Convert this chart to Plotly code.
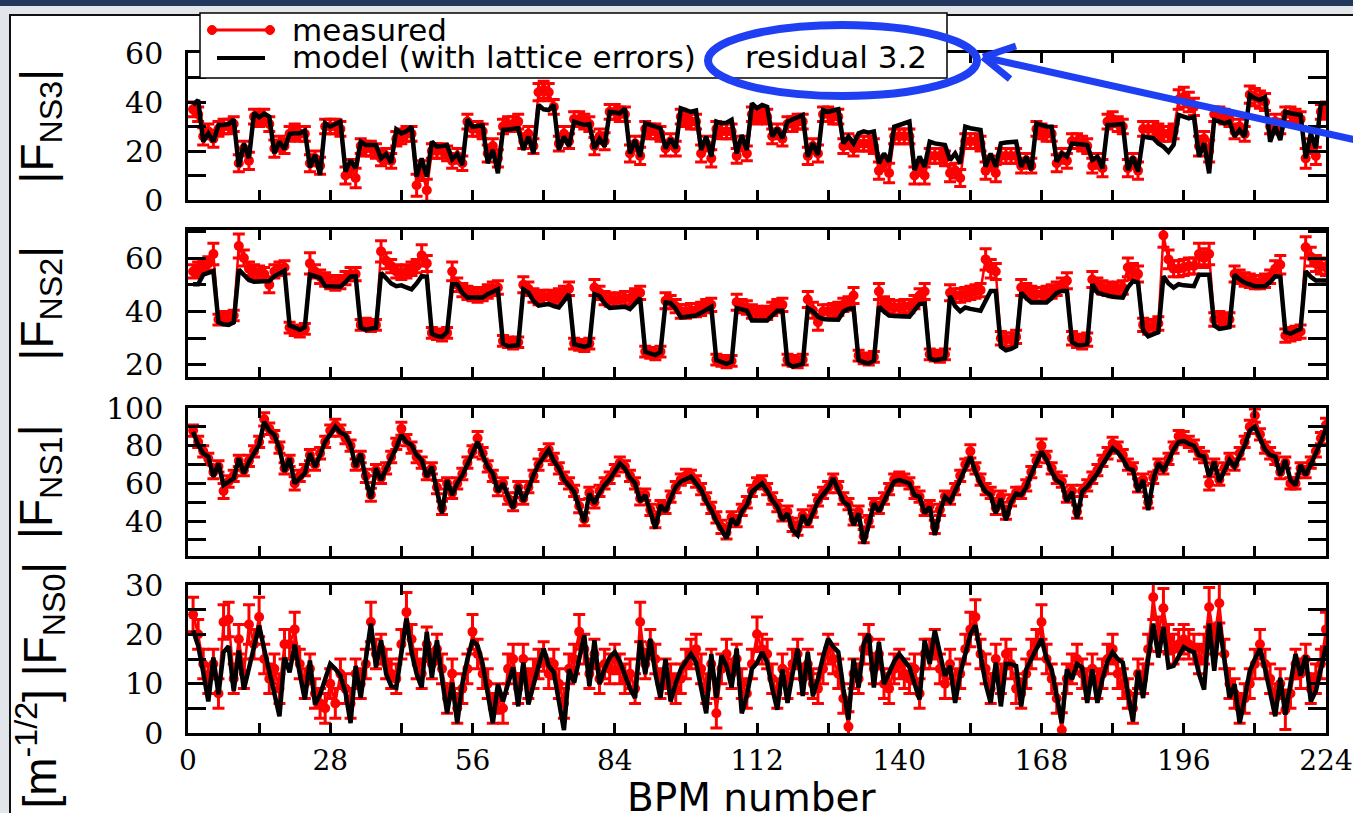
import plotly.graph_objects as go

W, H = 1353, 813

# BPM index (x categories)
bpm = list(range(1, 225))

# ---------------- |F_NS3| ----------------
fns3_model = [
    38.8, 40.8, 23.8, 27.2, 23.8, 30.6, 30.6,
    31.0, 32.9, 13.6, 23.1, 17.0, 35.6, 33.7,
    35.2, 34.0, 19.0, 23.8, 20.7, 27.0, 27.2,
    27.2, 28.3, 13.3, 18.4, 10.2, 31.3, 29.9,
    31.0, 32.0, 11.6, 16.3, 12.9, 23.8, 22.4,
    22.4, 22.4, 17.0, 18.8, 15.2, 28.8, 27.2,
    28.0, 29.9, 9.5, 17.0, 9.5, 23.8, 21.8,
    22.0, 22.4, 16.6, 18.8, 14.3, 32.9, 29.9,
    30.0, 30.5, 15.0, 20.4, 10.9, 28.6, 28.8,
    29.0, 29.3, 20.4, 25.9, 19.0, 38.8, 37.0,
    36.7, 38.8, 20.4, 25.9, 21.8, 32.0, 31.3,
    30.6, 31.0, 21.0, 25.0, 21.8, 36.0, 35.6,
    35.4, 37.4, 19.0, 24.5, 17.7, 31.3, 30.5,
    30.0, 29.3, 21.0, 25.0, 21.0, 37.4, 36.7,
    36.0, 36.5, 20.4, 25.9, 17.7, 32.0, 31.3,
    31.5, 32.7, 19.0, 26.5, 20.4, 39.5, 37.4,
    38.8, 38.0, 25.9, 29.3, 25.2, 32.0, 33.0,
    34.0, 34.7, 17.7, 23.1, 18.4, 36.7, 36.0,
    36.7, 37.0, 23.1, 25.9, 23.1, 27.2, 28.0,
    27.5, 28.0, 15.0, 19.0, 15.6, 29.9, 30.6,
    31.3, 32.0, 12.2, 17.7, 13.6, 23.8, 23.1,
    22.8, 22.4, 16.3, 19.0, 15.0, 29.9, 29.3,
    29.0, 28.6, 13.6, 19.0, 13.6, 23.1, 23.5,
    23.5, 23.8, 13.6, 17.7, 12.2, 31.3, 30.6,
    30.0, 29.9, 15.6, 19.0, 17.7, 23.1, 22.8,
    22.4, 22.4, 16.3, 17.7, 12.9, 30.6, 30.6,
    30.6, 31.0, 12.2, 17.7, 11.6, 25.9, 25.5,
    25.2, 23.1, 21.8, 19.7, 22.5, 34.7, 34.0,
    33.3, 34.0, 17.7, 23.1, 10.9, 32.7, 32.0,
    31.3, 32.0, 25.9, 28.6, 25.9, 42.9, 41.5,
    40.8, 42.0, 23.8, 29.9, 24.5, 36.0, 35.4,
    35.0, 34.7, 17.0, 27.2, 21.1, 39.5, 39.5,
]
fns3_meas = [
    37, 35, 26, 28, 25, 29, 30,
    30, 31, 15, 21, 16, 34, 33,
    34, 31, 21, 23, 22, 27, 28,
    27, 27, 15, 17, 14, 30, 30,
    30, 29, 10, 13, 9, 22, 21,
    21, 20, 17, 18, 16, 25, 26,
    27, 27, 6, 12, 4, 20, 20,
    20, 19, 16, 18, 15, 32, 29,
    29, 28, 19, 22, 17, 30, 31,
    31, 32, 24, 27, 22, 44, 45,
    44, 38, 23, 27, 24, 33, 33,
    32, 31, 22, 26, 24, 36, 36,
    35, 35, 19, 23, 18, 29, 28,
    28, 27, 21, 24, 21, 34, 33,
    32, 32, 19, 23, 17, 29, 28,
    28, 28, 18, 23, 19, 35, 34,
    35, 34, 26, 28, 25, 31, 31,
    32, 32, 18, 22, 19, 35, 35,
    34, 34, 22, 24, 21, 23, 23,
    23, 22, 12, 15, 11, 26, 26,
    26, 26, 10, 13, 10, 18, 18,
    18, 17, 11, 12, 9, 24, 24,
    24, 23, 12, 15, 11, 18, 18,
    18, 18, 14, 16, 14, 29, 28,
    27, 27, 15, 18, 16, 24, 24,
    23, 22, 14, 16, 13, 32, 33,
    31, 30, 13, 16, 12, 29, 29,
    29, 28, 27, 27, 28, 41, 42,
    40, 38, 22, 25, 20, 35, 35,
    34, 33, 28, 30, 27, 43, 42,
    41, 40, 30, 32, 30, 35, 35,
    34, 33, 17, 22, 18, 36, 37,
]
fns3_err = [
    3, 3, 3.5, 3, 3.5, 3, 3, 3, 3, 3.5, 3, 3.5, 3, 3,
    3, 3, 3.5, 3, 3, 3, 3, 3, 3, 3.5, 3, 3.5, 3, 3,
    3, 3, 3.5, 3.5, 4, 3, 3, 3, 3, 3, 3, 3, 3, 3,
    3, 3, 4.5, 4, 4.5, 3, 3, 3, 3, 3, 3, 3, 3, 3,
    3, 3, 3.5, 3, 3.5, 3, 3, 3, 3, 3, 3, 3, 3.5, 3.5,
    3.5, 3, 3, 3, 3, 3, 3, 3, 3, 3.5, 3, 3.5, 3, 3,
    3, 3, 3.5, 3, 3.5, 3, 3, 3, 3, 3, 3, 3, 3, 3,
    3, 3, 3.5, 3, 3.5, 3, 3, 3, 3, 3, 3, 3, 3, 3,
    3, 3, 3, 3, 3, 3, 3, 3, 3, 3.5, 3, 3.5, 3, 3,
    3, 3, 3, 3, 3, 3, 3, 3, 3, 3.5, 3, 4, 3, 3,
    3, 3, 3.5, 3, 3.5, 3, 3, 3, 3, 3.5, 3, 3.5, 3, 3,
    3, 3, 3.5, 3, 3.5, 3, 3, 3, 3, 3, 3, 3, 3, 3,
    3, 3, 3.5, 3, 3, 3, 3, 3, 3, 3, 3, 3.5, 3, 3,
    3, 3, 3.5, 3, 3.5, 3, 3, 3, 3, 3, 3, 3, 4, 4,
    4, 3.5, 4, 3, 4.5, 3, 3, 3, 3, 3, 3, 3, 3.5, 3.5,
    3.5, 3.5, 3, 3, 3, 3, 3, 3, 3, 4, 3, 3.5, 3, 3,
]

# ---------------- |F_NS2| ----------------
fns2_model = [
    50.2, 50.2, 53.8, 54.5, 55.1, 36.0, 35.2, 35.0, 36.0, 55.7, 53.5, 51.8, 51.1, 51.2,
    51.3, 51.4, 53.2, 54.2, 55.3, 34.8, 33.8, 33.2, 34.2, 53.8, 53.2, 52.6, 49.5, 49.3,
    49.3, 49.3, 51.0, 53.0, 53.2, 33.9, 33.2, 33.5, 33.9, 54.5, 52.6, 50.5, 49.5, 49.8,
    49.0, 48.3, 50.5, 53.2, 53.0, 31.7, 30.8, 30.5, 32.3, 50.2, 50.2, 47.0, 45.2, 45.2,
    45.2, 45.2, 46.5, 47.5, 48.3, 28.0, 27.0, 27.2, 27.4, 48.3, 47.1, 44.0, 42.2, 42.5,
    42.8, 42.0, 41.5, 44.0, 46.5, 27.8, 27.2, 26.8, 27.4, 46.5, 45.8, 43.0, 41.3, 41.5,
    41.6, 41.8, 40.9, 43.0, 45.0, 24.9, 24.2, 23.7, 24.9, 43.4, 43.2, 41.0, 37.8, 38.0,
    38.2, 38.5, 39.5, 40.8, 41.8, 21.8, 21.0, 20.4, 21.2, 41.3, 40.8, 40.3, 36.6, 36.6,
    36.6, 36.6, 38.5, 40.3, 40.3, 20.6, 19.4, 19.8, 20.4, 41.3, 40.1, 38.0, 37.2, 37.0,
    37.0, 36.9, 40.0, 41.0, 41.3, 21.8, 21.0, 20.6, 21.6, 41.8, 40.0, 38.5, 38.3, 38.2,
    38.1, 38.1, 40.5, 42.8, 43.0, 22.5, 21.8, 22.0, 22.5, 45.8, 42.0, 40.1, 41.5, 41.0,
    40.5, 40.3, 44.0, 47.7, 47.7, 26.8, 25.5, 26.0, 27.0, 47.1, 45.0, 43.4, 43.4, 43.4,
    43.4, 45.0, 47.0, 47.7, 47.7, 28.6, 27.4, 27.5, 27.8, 50.2, 47.1, 46.5, 45.8, 45.5,
    45.3, 45.2, 49.0, 51.4, 50.8, 32.9, 30.7, 31.5, 32.3, 53.2, 50.5, 48.9, 50.2, 49.8,
    49.6, 49.5, 53.8, 53.8, 53.8, 34.8, 33.5, 33.8, 34.2, 53.8, 52.0, 50.8, 50.0, 49.5,
    49.5, 49.5, 51.0, 53.2, 53.0, 32.3, 31.7, 32.5, 33.5, 55.1, 53.0, 51.6, 51.6, 51.6,
]
fns2_meas = [
    55, 56, 57, 58, 61.5, 37, 38, 37.5, 38.5, 64.5, 60, 56, 55, 54.5,
    54, 50, 55, 56, 56.5, 34, 33, 32.5, 33.5, 58, 55, 53, 52, 51,
    50.5, 51, 52.5, 54, 54, 35, 35.5, 34.5, 35, 62.5, 59, 57, 55, 54.5,
    55, 56, 57, 61, 58, 32, 31.5, 31, 32, 55, 50, 48, 47, 46.5,
    46, 46.5, 47.5, 48.5, 49, 29, 28.5, 28, 28.5, 50, 48.5, 46, 45, 45.5,
    45.5, 45, 46, 47, 48.5, 28, 27.5, 27, 28, 49, 47, 45, 44.5, 44,
    44.5, 45, 45, 46, 47, 25, 24.5, 24, 25, 44, 43.5, 42, 40, 40,
    40.5, 40.5, 41, 42, 42.5, 22, 21.5, 21, 21.5, 43.5, 42, 41.5, 40, 39.5,
    39, 39.5, 41, 42, 42.5, 22, 21.5, 21, 22, 44.5, 40.5, 36, 40, 40,
    40.5, 41, 42.5, 43, 46, 23.5, 22.5, 22, 23, 47.5, 43, 42, 41.5, 41.5,
    42, 42, 43.5, 46, 47.5, 24, 23.5, 23, 24, 47, 46, 46, 46.5, 47,
    47.5, 48, 59.5, 56, 55, 30, 29.5, 29.5, 30.5, 49, 48, 47, 46.5, 46.5,
    47, 47.5, 48.5, 50, 51.5, 30, 29, 28.5, 29.5, 52, 50, 49, 48.5, 48,
    48.5, 49, 56.5, 55, 54, 35, 34, 34.5, 35.5, 68.5, 59.5, 56, 56, 56.5,
    57, 57, 61.5, 60, 61.5, 37, 37.5, 36.5, 37, 54, 53, 52, 51.5, 51,
    51, 51.5, 53, 56, 57.5, 31, 31.5, 32, 32.5, 64, 60.5, 58, 57, 56.5,
]
fns2_err = [
    2.5, 2.5, 2.5, 2.5, 4, 2, 2, 2, 2, 4.5, 3, 2.5, 2.5, 2.5,
    2.5, 3, 2.5, 2.5, 2.5, 2, 2, 2, 2, 4, 2.5, 2.5, 2.5, 2.5,
    2.5, 2.5, 2.5, 2.5, 2.5, 2, 2, 2, 2, 4, 3, 2.5, 2.5, 2.5,
    2.5, 2.5, 2.5, 4, 3, 2, 2, 2, 2, 3.5, 2.5, 2.5, 2.5, 2.5,
    2.5, 2.5, 2.5, 2.5, 2.5, 2, 2, 2, 2, 3, 2.5, 2.5, 2.5, 2.5,
    2.5, 2.5, 2.5, 2.5, 2.5, 2, 2, 2, 2, 3, 2.5, 2.5, 2.5, 2.5,
    2.5, 2.5, 2.5, 2.5, 2.5, 2, 2, 2, 2, 3, 2.5, 2.5, 2.5, 2.5,
    2.5, 2.5, 2.5, 2.5, 2.5, 2, 2, 2, 2, 3, 2.5, 2.5, 2.5, 2.5,
    2.5, 2.5, 2.5, 2.5, 2.5, 2, 2, 2, 2, 3, 3, 3, 2.5, 2.5,
    2.5, 2.5, 2.5, 2.5, 3, 2, 2, 2, 2, 3, 2.5, 2.5, 2.5, 2.5,
    2.5, 2.5, 2.5, 2.5, 3, 2, 2, 2, 2, 3, 2.5, 2.5, 2.5, 2.5,
    2.5, 2.5, 4, 3.5, 3, 2.5, 2.5, 2.5, 2.5, 3, 2.5, 2.5, 2.5, 2.5,
    2.5, 2.5, 2.5, 2.5, 3, 2.5, 2.5, 2.5, 2.5, 3, 2.5, 2.5, 2.5, 2.5,
    2.5, 2.5, 3.5, 3, 3, 2.5, 2.5, 2.5, 2.5, 4.5, 3.5, 3, 3, 3,
    3, 3, 4, 3.5, 4, 2.5, 2.5, 2.5, 2.5, 3, 2.5, 2.5, 2.5, 2.5,
    2.5, 2.5, 2.5, 3, 3.5, 2.5, 2.5, 2.5, 2.5, 4, 3.5, 3, 3, 3,
]

# ---------------- |F_NS1| ----------------
fns1_model = [
    87.4, 80.4, 75.9, 74.2, 63.5, 70.6, 59.1, 61.0, 62.7, 73.3, 65.3, 71.5, 76.0, 80.4,
    92.7, 88.0, 85.7, 78.6, 66.2, 73.3, 60.0, 63.0, 65.3, 75.9, 68.8, 75.0, 82.1, 86.0,
    90.1, 87.0, 85.7, 80.4, 68.8, 75.9, 62.0, 52.0, 68.0, 61.8, 67.0, 73.3, 79.0, 85.7,
    82.0, 80.4, 75.0, 72.4, 63.5, 68.8, 56.0, 44.1, 61.8, 53.8, 60.0, 64.4, 70.0, 76.0,
    82.1, 75.0, 68.8, 65.3, 55.6, 60.0, 53.0, 46.7, 59.1, 50.3, 57.0, 64.4, 70.0, 74.0,
    77.7, 72.0, 68.0, 62.0, 59.1, 55.6, 47.0, 39.6, 54.7, 49.4, 55.0, 59.1, 62.0, 66.0,
    70.6, 68.0, 63.0, 60.0, 50.3, 53.8, 45.0, 36.1, 48.5, 45.0, 52.0, 58.0, 61.0, 62.5,
    63.5, 60.0, 56.5, 50.3, 45.8, 40.0, 35.0, 30.8, 41.4, 37.9, 45.0, 48.5, 55.6, 58.2,
    60.0, 56.0, 51.0, 47.6, 40.5, 44.1, 35.2, 32.6, 43.2, 37.9, 44.0, 50.3, 54.0, 57.3,
    62.7, 57.0, 50.3, 48.5, 37.9, 44.1, 28.1, 38.0, 49.4, 45.0, 51.0, 56.0, 60.9, 61.8,
    61.0, 60.0, 53.8, 52.9, 44.1, 47.6, 32.6, 45.0, 52.9, 50.3, 56.0, 62.7, 68.0, 74.2,
    66.0, 60.0, 55.6, 53.8, 44.1, 52.0, 40.5, 50.0, 54.7, 53.8, 58.0, 65.0, 71.0, 76.8,
    72.5, 66.0, 61.5, 60.0, 50.3, 55.6, 41.4, 55.6, 58.2, 61.5, 65.3, 70.0, 74.2, 78.6,
    76.5, 73.0, 68.0, 67.1, 55.6, 61.8, 45.8, 62.0, 70.6, 67.1, 72.0, 78.0, 82.0, 82.5,
    81.0, 80.0, 75.0, 74.2, 63.5, 71.5, 60.9, 67.0, 72.4, 68.8, 75.0, 80.0, 88.0, 90.0,
    83.9, 78.0, 75.0, 74.2, 64.4, 72.4, 61.8, 59.1, 69.7, 64.4, 70.0, 75.9, 82.0, 89.2,
]
fns1_meas = [
    88, 82, 77, 73, 66, 69, 56, 61, 64, 72, 67, 72, 77, 82,
    94, 89, 85, 79, 68, 72, 60, 64, 67, 75, 70, 76, 82, 88,
    91, 88, 84, 80, 70, 74, 64, 54, 67, 63, 68, 74, 81, 89,
    83, 79, 74, 71, 65, 68, 58, 47, 60, 55, 60, 65, 71, 77,
    84, 76, 69, 64, 57, 60, 52, 49, 58, 52, 58, 64, 70, 75,
    78, 73, 68, 63, 60, 56, 48, 41, 55, 50, 56, 60, 63, 67,
    71, 69, 64, 60, 52, 54, 46, 40, 48, 47, 53, 58, 62, 64,
    64, 61, 57, 52, 47, 42, 37, 34, 42, 40, 46, 50, 56, 60,
    61, 57, 52, 48, 43, 45, 38, 36, 43, 40, 45, 51, 55, 58,
    62, 58, 52, 49, 41, 45, 32, 40, 49, 47, 52, 57, 62, 63,
    62, 60, 55, 53, 46, 48, 37, 46, 53, 52, 57, 64, 70, 77,
    68, 62, 57, 55, 47, 53, 44, 51, 55, 55, 59, 66, 72, 80,
    74, 68, 63, 61, 53, 56, 45, 56, 59, 63, 67, 72, 76, 81,
    79, 75, 70, 68, 59, 62, 50, 63, 70, 68, 73, 79, 85, 84,
    82, 80, 76, 74, 60, 70, 62, 68, 73, 70, 76, 82, 90, 96,
    86, 79, 76, 73, 66, 71, 60, 60, 68, 66, 71, 77, 84, 91,
]
fns1_err = [
    3, 3, 3, 3, 3.5, 3, 4, 3, 3, 3, 3, 3, 3, 3,
    3.5, 3, 3, 3, 3, 3, 3.5, 3, 3, 3, 3, 3, 3, 3,
    3, 3, 3, 3, 3, 3, 3.5, 3.5, 3, 3, 3, 3, 3, 3.5,
    3, 3, 3, 3, 3, 3, 3.5, 3.5, 3, 3, 3, 3, 3, 3,
    3.5, 3, 3, 3, 3.5, 3, 3, 3.5, 3, 3, 3, 3, 3, 3,
    3, 3, 3, 3, 3, 3, 3.5, 3.5, 3, 3, 3, 3, 3, 3,
    3, 3, 3, 3, 3.5, 3, 3, 3.5, 3, 3, 3, 3, 3, 3.5,
    3, 3, 3, 3, 3, 3, 3.5, 3.5, 3, 3, 3, 3, 3, 3,
    3, 3, 3, 3, 3, 3, 3.5, 3.5, 3, 3, 3, 3, 3, 3,
    3, 3, 3, 3, 3, 3, 3.5, 3, 3, 3, 3, 3, 3, 3,
    3, 3, 3, 3, 3, 3, 3.5, 3, 3, 3, 3, 3, 3, 3.5,
    3, 3, 3, 3, 3.5, 3, 3, 3, 3, 3, 3, 3, 3, 3.5,
    3, 3, 3, 3, 3, 3, 3.5, 3, 3, 3, 3, 3, 3, 3.5,
    3, 3, 3, 3, 3.5, 3, 3, 3, 3, 3, 3, 3, 3, 3.5,
    3, 3, 3, 3, 3.5, 3, 3, 3, 3, 3, 3, 3, 3.5, 3.5,
    3, 3, 3, 3, 3.5, 3, 3, 3, 3, 3, 3, 3, 3, 3.5,
]

# ---------------- |F_NS0| ----------------
fns0_model = [
    20.8, 17.7, 12.3, 6.4, 15.3, 7.8, 16.4, 17.6, 8.5, 16.7, 8.8, 12.9, 17.0, 21.8,
    17.0, 12.9, 8.0, 3.4, 15.3, 12.3, 17.9, 12.0, 6.8, 14.7, 5.8, 7.8, 11.0, 14.0,
    13.0, 11.6, 8.2, 2.0, 13.6, 7.1, 15.0, 22.2, 13.3, 18.8, 12.0, 9.5, 9.2, 16.0,
    23.2, 16.4, 12.0, 9.2, 20.5, 11.2, 18.8, 11.0, 4.0, 10.2, 2.0, 10.0, 15.0, 18.8,
    17.7, 14.0, 8.0, 2.0, 9.9, 6.4, 10.0, 13.3, 5.4, 14.3, 5.8, 10.0, 13.6, 17.1,
    13.6, 12.3, 6.0, 0.6, 12.9, 10.2, 15.0, 19.8, 9.5, 18.8, 9.9, 13.0, 15.3, 16.4,
    14.5, 12.0, 9.0, 7.1, 18.8, 11.9, 19.1, 12.0, 7.1, 15.0, 6.4, 10.0, 12.9, 14.5,
    16.0, 14.3, 9.0, 4.0, 16.0, 7.1, 15.7, 13.6, 9.2, 17.1, 4.0, 7.5, 13.0, 14.2,
    16.4, 14.3, 9.0, 4.7, 12.9, 6.1, 12.0, 17.1, 7.5, 16.4, 7.5, 11.0, 15.5, 19.1,
    17.5, 16.4, 9.0, 2.7, 15.0, 9.2, 18.1, 20.1, 9.2, 18.4, 9.9, 12.0, 14.5, 16.0,
    14.5, 13.3, 10.0, 6.8, 18.8, 14.0, 20.8, 16.0, 11.6, 13.6, 6.1, 12.0, 16.0, 20.0,
    21.8, 16.0, 10.0, 6.1, 14.3, 5.4, 14.0, 14.0, 13.6, 5.4, 12.9, 15.0, 17.0, 19.1,
    15.0, 12.9, 7.5, 2.0, 12.9, 10.9, 14.0, 13.3, 6.1, 12.9, 6.1, 11.0, 14.5, 16.4,
    15.0, 14.3, 8.0, 2.3, 12.6, 7.1, 15.0, 22.2, 15.3, 21.5, 13.3, 13.6, 15.5, 17.4,
    16.8, 16.4, 12.0, 8.8, 22.2, 12.6, 22.5, 14.0, 7.1, 9.9, 2.0, 7.0, 12.6, 15.0,
    17.1, 13.0, 8.0, 3.4, 11.2, 3.7, 10.0, 16.0, 11.6, 15.7, 6.4, 8.5, 13.0, 17.7,
]
fns0_meas = [
    24, 20, 14, 11, 14, 8, 22.5, 23, 11, 19, 12, 22, 18, 23.5,
    15, 11, 13, 9, 18, 18, 21, 14, 10, 13, 8, 6, 5, 10,
    6, 12, 9, 6, 12, 10, 14, 22.5, 16, 17, 14, 12, 11, 18,
    24.5, 19, 14, 12, 18, 14, 17, 13, 7, 12, 5, 9, 13, 20.5,
    16, 12, 10, 5, 7, 5, 13, 15, 9, 15, 10, 12, 14, 15.5,
    12, 14, 10, 6, 13, 15, 20.5, 17, 12, 16, 11, 14, 13, 15,
    13, 11, 12, 9, 22.5, 14, 18, 15, 10, 12, 11, 9, 11, 14,
    16, 17, 13, 9, 14, 4, 13, 16, 12, 15, 10, 8, 14, 20,
    17, 16, 11, 8, 13, 10, 14, 16, 11, 14, 10, 9, 13, 17,
    15, 12, 7, 1.3, 12, 11, 17, 19, 13, 16, 10, 9, 13, 14,
    12, 11, 13, 8, 16, 16, 18, 13, 10, 14, 10, 12, 17, 21,
    23.5, 16, 13, 9, 15, 11, 16, 14, 9, 8, 12, 16, 18, 22.5,
    15, 11, 7, 0.6, 11, 13, 15, 12, 10, 13, 10, 12, 15, 17,
    12, 10, 8, 5, 12, 11, 17, 27.5, 20, 25.3, 19, 17, 18, 19,
    18, 17, 15, 17, 25.5, 19, 26.3, 16, 10, 8, 5, 7, 10, 14,
    18, 14, 11, 7, 10, 4.7, 8, 14, 12, 15, 9, 11, 14, 21,
]
fns0_err = [
    3.5, 3, 3, 3, 3, 3, 3.5, 3.5, 3, 3, 3, 4, 3, 4,
    3, 3, 3, 3, 3, 3, 3.5, 3, 3, 3, 3, 3, 3, 3,
    3, 3, 3, 3, 3, 3, 3, 4, 3, 3, 3, 3, 3, 3,
    4, 3, 3, 3, 3.5, 3, 3, 3, 3, 3, 3, 3, 3, 3.5,
    3, 3, 3, 3, 3, 3, 3, 3, 3, 3, 3, 3, 3, 3,
    3, 3, 3, 3, 3, 3, 3.5, 3, 3, 3, 3, 3, 3, 3,
    3, 3, 3, 3, 4, 3, 3, 3, 3, 3, 3, 3, 3, 3,
    3, 3, 3, 3, 3, 3, 3, 3, 3, 3, 3, 3, 3, 3.5,
    3, 3, 3, 3, 3, 3, 3, 3, 3, 3, 3, 3, 3, 3,
    3, 3, 3, 3, 3, 3, 3, 3, 3, 3, 3, 3, 3, 3,
    3, 3, 3, 3, 3, 3, 3, 3, 3, 3, 3, 3, 3, 3.5,
    3.5, 3, 3, 3, 3, 3, 3, 3, 3, 3, 3, 3, 3, 3.5,
    3, 3, 3, 3.5, 3, 3, 3, 3, 3, 3, 3, 3, 3, 3,
    3, 3, 3, 3, 3, 3, 3, 4.5, 3.5, 4, 3, 3, 3, 3,
    3, 3, 3, 3, 4, 3, 4, 3, 3, 3, 3, 3, 3, 3,
    3, 3, 3, 3, 3, 4, 3, 3, 3, 3, 3, 3, 3, 3.5,
]

# labels
ytitles = ["|F<sub>NS3</sub>|", "|F<sub>NS2</sub>|", "|F<sub>NS1</sub>|",
           "[m<sup>-1/2</sup>] |F<sub>NS0</sub>|"]
xticks = [0, 28, 56, 84, 112, 140, 168, 196, 224]
legend_labels = ["measured", "model (with lattice errors)"]
residual_label = "residual 3.2"
xlabel = "BPM number"


def fx(p):
    return p / W


def fy(p):
    return 1 - p / H


RED = "#ff0000"
BLUE = "#1e3ff2"

panels = [
    dict(meas=fns3_meas, model=fns3_model, err=fns3_err, yr=[0, 60], dt=20, mdt=10, top=53, bot=200),
    dict(meas=fns2_meas, model=fns2_model, err=fns2_err, yr=[15.5, 70.5], dt=20, mdt=10, top=230, bot=377),
    dict(meas=fns1_meas, model=fns1_model, err=fns1_err, yr=[21.5, 100], dt=20, mdt=10, top=408, bot=556),
    dict(meas=fns0_meas, model=fns0_model, err=fns0_err, yr=[0, 30], dt=10, mdt=5, top=585, bot=733),
]

fig = go.Figure()
layout_axes = {}
ytickfont = dict(family="DejaVu Serif", size=30, color="black")
xtickfont = dict(family="DejaVu Serif", size=28, color="black")

for i, p in enumerate(panels, start=1):
    xa = "x" if i == 1 else f"x{i}"
    ya = "y" if i == 1 else f"y{i}"
    fig.add_trace(go.Scatter(
        x=bpm, y=p["meas"], mode="lines+markers", xaxis=xa, yaxis=ya,
        line=dict(color=RED, width=2.5), marker=dict(color=RED, size=10),
        error_y=dict(type="data", array=p["err"], visible=True, color=RED,
                     thickness=3, width=6),
        name=legend_labels[0], showlegend=False))
    fig.add_trace(go.Scatter(
        x=bpm, y=p["model"], mode="lines", xaxis=xa, yaxis=ya,
        line=dict(color="black", width=4.5), name=legend_labels[1], showlegend=False))

    xkey = "xaxis" if i == 1 else f"xaxis{i}"
    ykey = "yaxis" if i == 1 else f"yaxis{i}"
    layout_axes[xkey] = dict(
        domain=[fx(188), fx(1326)], anchor=ya, range=[0, 224],
        showline=True, linewidth=2.5, linecolor="black", mirror="ticks",
        ticks="inside", ticklen=10, tickwidth=2.5, tickcolor="black",
        tickmode="array", tickvals=xticks, ticktext=[str(v) for v in xticks],
        minor=dict(dtick=14, tick0=0, ticks="inside", ticklen=10, tickwidth=2.5,
                   tickcolor="black", showgrid=False),
        showgrid=False, zeroline=False, showticklabels=(i == 4),
        tickfont=xtickfont, ticklabelstandoff=1, automargin=False,
        ticklabeloverflow="allow")
    layout_axes[ykey] = dict(
        domain=[fy(p["bot"]), fy(p["top"])], anchor=xa, range=p["yr"],
        showline=True, linewidth=2.5, linecolor="black", mirror="ticks",
        ticks="inside", ticklen=18, tickwidth=2.5, tickcolor="black",
        tick0=0, dtick=p["dt"],
        minor=dict(dtick=p["mdt"], tick0=0, ticks="inside", ticklen=18, tickwidth=2.5,
                   tickcolor="black", showgrid=False),
        showgrid=False, zeroline=False, tickfont=ytickfont, ticklabelstandoff=16,
        automargin=False, ticklabeloverflow="allow")

fig.update_layout(**layout_axes)

shapes = [
    # slide background elements
    dict(type="rect", xref="paper", yref="paper", x0=0, x1=1, y0=fy(6), y1=1,
         fillcolor="#22375c", line=dict(width=0), layer="below"),
    dict(type="rect", xref="paper", yref="paper", x0=fx(10), x1=fx(1400), y0=fy(880), y1=fy(15),
         fillcolor="white", line=dict(color="#111111", width=2), layer="below"),
    # legend box
    dict(type="rect", xref="paper", yref="paper", x0=fx(200), x1=fx(947), y0=fy(78), y1=fy(13),
         fillcolor="white", line=dict(color="black", width=1.5), layer="above"),
    dict(type="line", xref="paper", yref="paper", x0=fx(212), x1=fx(270), y0=fy(30), y1=fy(30),
         line=dict(color=RED, width=3), layer="above"),
    dict(type="circle", xref="paper", yref="paper", x0=fx(207.5), x1=fx(216.5), y0=fy(34.5), y1=fy(25.5),
         fillcolor=RED, line=dict(color=RED, width=1), layer="above"),
    dict(type="circle", xref="paper", yref="paper", x0=fx(265.5), x1=fx(274.5), y0=fy(34.5), y1=fy(25.5),
         fillcolor=RED, line=dict(color=RED, width=1), layer="above"),
    dict(type="line", xref="paper", yref="paper", x0=fx(217), x1=fx(265), y0=fy(58), y1=fy(58),
         line=dict(color="black", width=4), layer="above"),
    # blue ellipse
    dict(type="circle", xref="paper", yref="paper", x0=fx(708), x1=fx(977), y0=fy(96), y1=fy(25),
         line=dict(color=BLUE, width=8), layer="above"),
    # blue arrow
    dict(type="line", xref="paper", yref="paper", x0=fx(983), x1=fx(1360), y0=fy(57), y1=fy(141),
         line=dict(color=BLUE, width=7), layer="above"),
    dict(type="line", xref="paper", yref="paper", x0=fx(983), x1=fx(1016), y0=fy(57), y1=fy(46),
         line=dict(color=BLUE, width=7), layer="above"),
    dict(type="line", xref="paper", yref="paper", x0=fx(983), x1=fx(1010), y0=fy(57), y1=fy(79),
         line=dict(color=BLUE, width=7), layer="above"),
]

legfont = dict(family="DejaVu Sans", size=31, color="black")
annotations = [
    dict(text=legend_labels[0], x=fx(290), y=fy(30), xref="paper", yref="paper",
         xanchor="left", yanchor="middle", showarrow=False, font=legfont),
    dict(text=legend_labels[1], x=fx(290), y=fy(57), xref="paper", yref="paper",
         xanchor="left", yanchor="middle", showarrow=False, font=legfont),
    dict(text=residual_label, x=fx(743), y=fy(57), xref="paper", yref="paper",
         xanchor="left", yanchor="middle", showarrow=False, font=legfont),
    dict(text=xlabel, x=fx(751), y=fy(797), xref="paper", yref="paper",
         xanchor="center", yanchor="middle", showarrow=False,
         font=dict(family="DejaVu Sans", size=39, color="black")),
]
title_font = dict(family="Liberation Sans Narrow, Liberation Sans", size=46, color="black")
for i, p in enumerate(panels):
    if i < 3:
        annotations.append(dict(text=ytitles[i], x=fx(40), y=fy((p["top"] + p["bot"]) / 2),
                                xref="paper", yref="paper", xanchor="center", yanchor="middle",
                                textangle=-90, showarrow=False, font=title_font))
    else:
        annotations.append(dict(text=ytitles[i], x=fx(40), y=fy(811),
                                xref="paper", yref="paper", xanchor="center", yanchor="bottom",
                                textangle=-90, showarrow=False, font=title_font))

fig.update_layout(
    width=W, height=H, autosize=False,
    margin=dict(l=0, r=0, t=0, b=0, pad=0, autoexpand=False),
    paper_bgcolor="#e2e5ea", plot_bgcolor="white", showlegend=False,
    shapes=shapes, annotations=annotations,
)

fig.write_html(
    "out.html",
    post_script="document.body.style.margin='0px';document.body.style.padding='0px';"
                "document.body.style.overflow='hidden';",
)
